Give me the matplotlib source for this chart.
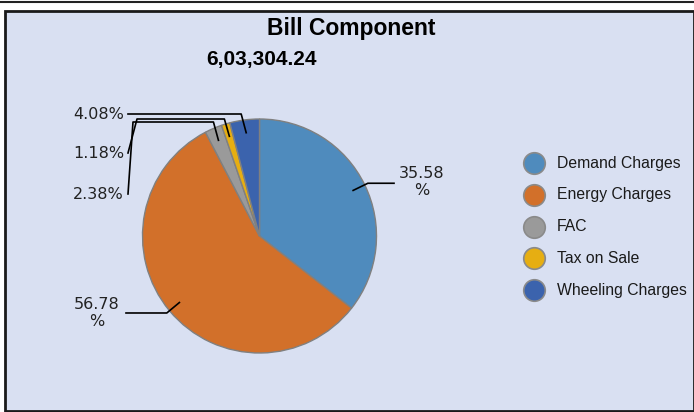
import numpy as np
import matplotlib.pyplot as plt
from matplotlib.patches import Rectangle
from matplotlib.lines import Line2D

categories = ["Demand Charges", "Energy Charges", "FAC", "Tax on Sale", "Wheeling Charges"]
shares = [35.58, 56.78, 2.38, 1.18, 4.08]
colors = ["#4f8bbd", "#d2702a", "#9a9a9a", "#e6ae12", "#3b63ad"]
title = "Bill Component"
total_text = "6,03,304.24"

W, H = 694, 412


def main():
    fig = plt.figure(figsize=(W / 100, H / 100), dpi=100)
    ax = fig.add_axes([0, 0, 1, 1])
    ax.set_xlim(0, W)
    ax.set_ylim(0, H)
    ax.axis("off")

    # frame: thin line on top, then the light blue panel
    ax.add_line(Line2D([0, W], [H - 1.5, H - 1.5], color="#222222", lw=1.5))
    ax.add_patch(Rectangle((5, 1), W - 5, H - 12, facecolor="#d9e0f2",
                           edgecolor="#1a1a1a", lw=2))

    ax.text(351.5, H - 28, title, ha="center", va="center", fontsize=16.5,
            fontweight="bold", family="Liberation Sans")
    ax.text(261.5, H - 59, total_text, ha="center", va="center", fontsize=15,
            fontweight="bold", family="Liberation Sans")

    cx, cy, r = 259.5, H - 236, 117
    ax.pie(shares, colors=colors, startangle=90, counterclock=False,
           center=(cx, cy), radius=r, frame=True,
           wedgeprops=dict(edgecolor="#808080", linewidth=1))
    ax.set_xlim(0, W)
    ax.set_ylim(0, H)
    ax.set_aspect("equal")
    ax.axis("off")

    # mid angle of each slice
    frac = np.array(shares) / sum(shares)
    ends = 90 - np.cumsum(frac) * 360
    mids = np.radians(ends + frac * 180)

    def pt(i, k):
        return cx + k * r * np.cos(mids[i]), cy + k * r * np.sin(mids[i])

    lab = [f"{v:.2f}%" for v in shares]
    lc = "black"
    # big slices: radial stub then horizontal
    for i, x_end, tx, ty in [(0, 394, 422, H - 182), (1, 126, 97, H - 313)]:
        x0, y0 = pt(i, 0.89)
        x1, y1 = pt(i, 1.03)
        ax.plot([x0, x1, x_end], [y0, y1, y1], color=lc, lw=1.2)
        ax.text(tx, ty, lab[i].replace("%", "\n%"), ha="center", va="center",
                fontsize=11.5, linespacing=1.2, color="#222222")

    # small slices: up, left, then down to label
    for i, lvl, x_turn, ly in [(4, 114, 129, 114), (3, 119, 137, 153), (2, 122, 133, 194)]:
        x0, y0 = pt(i, 0.89)
        xs = [x0, x0 - 5, x_turn, 128]
        ys = [y0, H - lvl, H - lvl, H - ly]
        ax.plot(xs, ys, color=lc, lw=1.2)
        ax.text(124, H - ly, lab[i], ha="right", va="center", fontsize=11.5,
                color="#222222")

    # legend
    for k, (name, c) in enumerate(zip(categories, colors)):
        y = H - (163 + k * 31.8)
        ax.plot(534, y, "o", ms=15.5, mfc=c, mec="#8a8a8a", mew=1.2)
        ax.text(557, y, name, ha="left", va="center", fontsize=11.3,
                family="Liberation Sans", color="#1a1a1a")

    fig.savefig("out.png", dpi=100)


if __name__ == "__main__":
    main()
